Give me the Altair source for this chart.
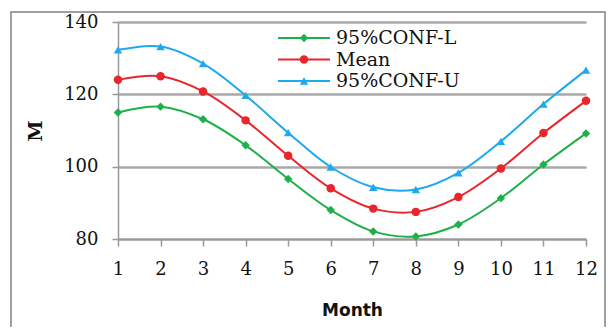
import altair as alt
import pandas as pd

months = list(range(1, 13))
conf_l = [115.0, 116.6, 113.1, 105.9, 96.6, 88.0, 82.1, 80.7, 84.0, 91.3, 100.6, 109.2]
mean = [124.0, 125.0, 120.8, 112.8, 103.0, 94.0, 88.4, 87.5, 91.6, 99.5, 109.3, 118.2]
conf_u = [132.3, 133.2, 128.5, 119.7, 109.4, 99.9, 94.3, 93.7, 98.3, 107.0, 117.3, 126.7]
series_names = ["95%CONF-L", "Mean", "95%CONF-U"]
colors = ["#1fb04a", "#e8262b", "#1ea9ef"]
shapes = ["diamond", "circle", "triangle-up"]

rows = []
for name, vals in zip(series_names, [conf_l, mean, conf_u]):
    for m, v in zip(months, vals):
        rows.append({"Month": m, "M": v, "Series": name})
df = pd.DataFrame(rows)
legend_df = pd.DataFrame({"Series": series_names, "row": [0, 1, 2]})

color_scale = alt.Scale(domain=series_names, range=colors)
shape_scale = alt.Scale(domain=series_names, range=shapes)

SERIF = "DejaVu Serif"

x_enc = alt.X("Month:Q", scale=alt.Scale(domain=[1, 12], nice=False, zero=False),
              axis=alt.Axis(values=months, title="Month", grid=False, tickSize=7,
                            labelPadding=14, titlePadding=24,
                            labelFont=SERIF, labelFontSize=18, labelColor="#111",
                            titleFont="DejaVu Sans", titleFontSize=17, titleFontWeight="bold",
                            titleColor="#111", domainColor="#999", tickColor="#999",
                            domainWidth=1.5, tickWidth=1.5, labelFlush=False))
y_enc = alt.Y("M:Q", scale=alt.Scale(domain=[80, 140], nice=False, zero=False),
              axis=alt.Axis(values=[80, 100, 120, 140], title="M", grid=True,
                            gridColor="#a8a8a8", gridWidth=2.5, tickSize=6,
                            labelPadding=14, titlePadding=18,
                            labelFont=SERIF, labelFontSize=18, labelColor="#111",
                            titleFont=SERIF, titleFontSize=19, titleFontWeight="bold",
                            titleColor="#111", domainColor="#999", tickColor="#999",
                            domainWidth=1.5, tickWidth=1.5))

color_enc = alt.Color("Series:N", scale=color_scale, sort=series_names, legend=None)
shape_enc = alt.Shape("Series:N", scale=shape_scale, sort=series_names, legend=None)

lines = alt.Chart(df).mark_line(interpolate="catmull-rom", strokeWidth=2).encode(
    x=x_enc, y=y_enc, color=color_enc, detail="Series:N",
)

points = alt.Chart(df).mark_point(filled=True, size=72, opacity=1).encode(
    x="Month:Q", y="M:Q", color=color_enc, shape=shape_enc,
)

main_layer = alt.layer(lines, points)

# legend drawn as marks, rows placed by a helper scale
ly = alt.Y("row:Q", scale=alt.Scale(domain=[0, 2], range=[16, 59]), axis=None)
leg_line = alt.Chart(legend_df).mark_rule(strokeWidth=2).encode(
    x=alt.value(160), x2=alt.value(212), y=ly, color=color_enc)
leg_pt = alt.Chart(legend_df).mark_point(filled=True, size=72, opacity=1).encode(
    x=alt.value(186), y=ly, color=color_enc, shape=shape_enc)
leg_txt = alt.Chart(legend_df).mark_text(
    align="left", baseline="middle", font=SERIF, fontSize=19, color="#111"
).encode(x=alt.value(218), y=ly, text="Series:N")
legend_layer = alt.layer(leg_line, leg_pt, leg_txt)

frame_df = pd.DataFrame({"a": [0]})
frame = alt.Chart(frame_df).mark_rect(
    fill=None, stroke="#a0a0a0", strokeWidth=2
).encode(x=alt.value(-107), x2=alt.value(487), y=alt.value(-10), y2=alt.value(330))

chart = alt.layer(frame, main_layer, legend_layer).resolve_scale(y="independent").properties(
    width=468, height=217,
    autosize=alt.AutoSizeParams(type="none"),
    padding={"left": 110, "top": 14, "right": 20, "bottom": 88},
).configure_view(stroke=None)

chart.save("out.html", embed_options={"renderer": "svg", "actions": False})
